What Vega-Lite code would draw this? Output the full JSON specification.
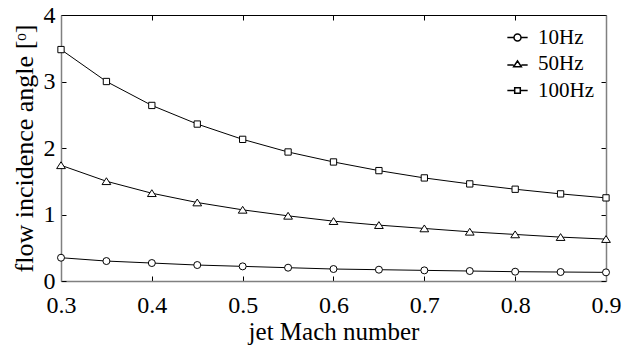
{
  "$schema": "https://vega.github.io/schema/vega-lite/v6.json",
  "width": 545,
  "height": 266,
  "autosize": {"type": "none"},
  "padding": {"left": 61, "top": 15, "right": 25, "bottom": 67},
  "background": "white",
  "config": {
    "font": "Liberation Serif",
    "view": {"stroke": null},
    "axis": {"grid": false, "labelFlush": false, "labelFont": "Liberation Serif", "titleFont": "Liberation Serif", "labelFontSize": 24, "titleFontSize": 25, "titleFontWeight": "normal", "labelColor": "black", "titleColor": "black", "tickColor": "black", "tickWidth": 1}
  },
  "data": {
    "values": [
      {"mach": 0.3, "angle": 0.35, "freq": "10Hz"},
      {"mach": 0.35, "angle": 0.30, "freq": "10Hz"},
      {"mach": 0.4, "angle": 0.27, "freq": "10Hz"},
      {"mach": 0.45, "angle": 0.24, "freq": "10Hz"},
      {"mach": 0.5, "angle": 0.22, "freq": "10Hz"},
      {"mach": 0.55, "angle": 0.20, "freq": "10Hz"},
      {"mach": 0.6, "angle": 0.18, "freq": "10Hz"},
      {"mach": 0.65, "angle": 0.17, "freq": "10Hz"},
      {"mach": 0.7, "angle": 0.16, "freq": "10Hz"},
      {"mach": 0.75, "angle": 0.15, "freq": "10Hz"},
      {"mach": 0.8, "angle": 0.14, "freq": "10Hz"},
      {"mach": 0.85, "angle": 0.135, "freq": "10Hz"},
      {"mach": 0.9, "angle": 0.13, "freq": "10Hz"},
      {"mach": 0.3, "angle": 1.74, "freq": "50Hz"},
      {"mach": 0.35, "angle": 1.50, "freq": "50Hz"},
      {"mach": 0.4, "angle": 1.32, "freq": "50Hz"},
      {"mach": 0.45, "angle": 1.18, "freq": "50Hz"},
      {"mach": 0.5, "angle": 1.07, "freq": "50Hz"},
      {"mach": 0.55, "angle": 0.98, "freq": "50Hz"},
      {"mach": 0.6, "angle": 0.90, "freq": "50Hz"},
      {"mach": 0.65, "angle": 0.84, "freq": "50Hz"},
      {"mach": 0.7, "angle": 0.79, "freq": "50Hz"},
      {"mach": 0.75, "angle": 0.74, "freq": "50Hz"},
      {"mach": 0.8, "angle": 0.70, "freq": "50Hz"},
      {"mach": 0.85, "angle": 0.66, "freq": "50Hz"},
      {"mach": 0.9, "angle": 0.63, "freq": "50Hz"},
      {"mach": 0.3, "angle": 3.48, "freq": "100Hz"},
      {"mach": 0.35, "angle": 3.00, "freq": "100Hz"},
      {"mach": 0.4, "angle": 2.64, "freq": "100Hz"},
      {"mach": 0.45, "angle": 2.36, "freq": "100Hz"},
      {"mach": 0.5, "angle": 2.13, "freq": "100Hz"},
      {"mach": 0.55, "angle": 1.94, "freq": "100Hz"},
      {"mach": 0.6, "angle": 1.79, "freq": "100Hz"},
      {"mach": 0.65, "angle": 1.66, "freq": "100Hz"},
      {"mach": 0.7, "angle": 1.55, "freq": "100Hz"},
      {"mach": 0.75, "angle": 1.46, "freq": "100Hz"},
      {"mach": 0.8, "angle": 1.38, "freq": "100Hz"},
      {"mach": 0.85, "angle": 1.31, "freq": "100Hz"},
      {"mach": 0.9, "angle": 1.25, "freq": "100Hz"}
    ]
  },
  "encoding": {
    "x": {"field": "mach", "type": "quantitative", "scale": {"domain": [0.3, 0.9], "nice": false, "zero": false}},
    "y": {"field": "angle", "type": "quantitative", "scale": {"domain": [0, 4], "nice": false}}
  },
  "layer": [
    {
      "mark": {"type": "line", "color": "black", "strokeWidth": 1},
      "encoding": {
        "detail": {"field": "freq", "type": "nominal"},
        "x": {"field": "mach", "type": "quantitative", "axis": {"orient": "top", "values": [0.3, 0.4, 0.5, 0.6, 0.7, 0.8, 0.9], "labels": false, "title": null, "tickSize": -5, "domainColor": "black", "domainWidth": 1}},
        "y": {"field": "angle", "type": "quantitative", "axis": {"orient": "right", "values": [0, 1, 2, 3, 4], "labels": false, "title": null, "tickSize": -5, "domainColor": "#808080", "domainWidth": 1.5}}
      }
    },
    {
      "mark": {"type": "point", "filled": true, "fill": "white", "stroke": "black", "strokeWidth": 1, "opacity": 1, "size": 49},
      "encoding": {
        "x": {"field": "mach", "type": "quantitative", "axis": {"orient": "bottom", "values": [0.3, 0.4, 0.5, 0.6, 0.7, 0.8, 0.9], "format": ".1f", "tickSize": -5, "labelPadding": 17, "domainColor": "#808080", "domainWidth": 1.5, "title": "jet Mach number", "titlePadding": 2}},
        "y": {"field": "angle", "type": "quantitative", "axis": {"orient": "left", "values": [0, 1, 2, 3, 4], "format": "d", "tickSize": -5, "labelPadding": 11, "domainColor": "#808080", "domainWidth": 1.5, "title": "flow incidence angle [ᵒ]", "titleFontSize": 26, "titlePadding": 6}},
        "shape": {
          "field": "freq", "type": "nominal",
          "scale": {"domain": ["10Hz", "50Hz", "100Hz"], "range": ["circle", "M0,-1L1.25,0.95H-1.25Z", "M-0.9,-0.9H0.9V0.9H-0.9Z"]},
          "legend": null
        }
      }
    },
    {
      "mark": {"type": "point", "filled": false, "color": "black", "strokeWidth": 1, "size": 49},
      "encoding": {
        "x": {"field": "mach", "type": "quantitative", "axis": null},
        "y": {"field": "angle", "type": "quantitative", "axis": null},
        "opacity": {"value": 0},
        "shape": {
          "field": "freq", "type": "nominal",
          "scale": {"domain": ["10Hz", "50Hz", "100Hz"], "range": ["M-2.9,0H-1A1,1 0 1,1 1,0A1,1 0 1,1 -1,0M1,0H2.9", "M-2.9,0.3H-1.1M1.1,0.3H2.9M0,-0.9L1.1,0.8H-1.1Z", "M-2.9,0H-0.8M0.8,0H2.9M-0.8,-0.8H0.8V0.8H-0.8Z"]},
          "legend": {
            "title": null,
            "orient": "top-right",
            "offset": 12,
            "labelFontSize": 21,
            "labelFont": "Liberation Serif",
            "labelColor": "black",
            "symbolSize": 49,
            "symbolOpacity": 1,
            "labelOffset": 10,
            "rowPadding": 4.5
          }
        }
      }
    }
  ],
  "resolve": {"axis": {"x": "independent", "y": "independent"}, "scale": {"shape": "independent"}}
}
